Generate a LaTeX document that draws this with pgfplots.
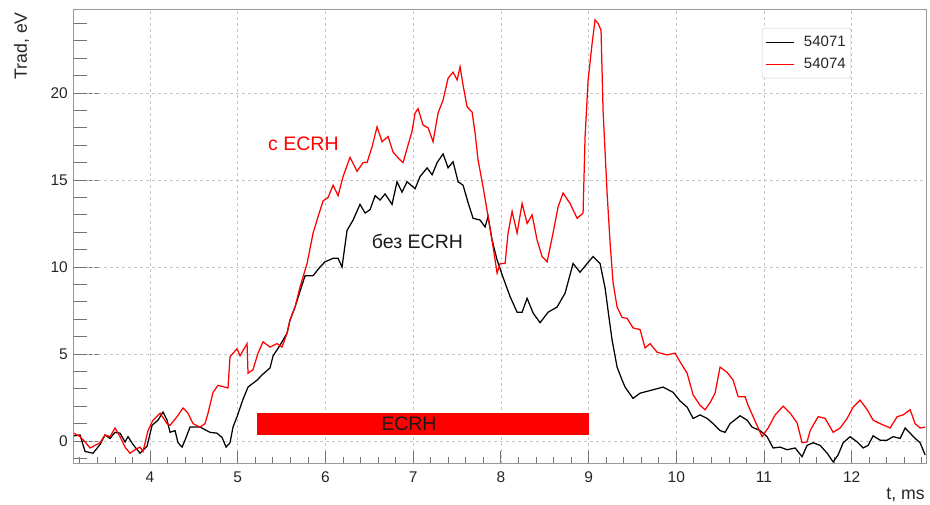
\documentclass[border=0pt]{standalone}
\usepackage{fontspec}
\setmainfont{Liberation Sans}
\usepackage{pgfplots}
\usepackage{pgfplotstable}
\pgfplotsset{compat=1.18}

\pgfplotstableread{
x y
3.133 0.3
3.202 0.35
3.259 -0.6
3.350 -0.7
3.430 -0.2
3.487 0.35
3.544 0.15
3.601 0.5
3.658 0.45
3.715 -0.05
3.749 0.25
3.806 -0.2
3.886 -0.7
3.966 -0.3
4.023 0.9
4.091 1.2
4.148 1.67
4.194 1.2
4.228 0.5
4.285 0.6
4.319 -0.1
4.365 -0.35
4.399 0.05
4.456 0.8
4.570 0.8
4.684 0.5
4.764 0.45
4.821 0.2
4.867 -0.35
4.912 -0.1
4.946 0.8
4.992 1.4
5.060 2.4
5.117 3.1
5.220 3.5
5.288 3.85
5.368 4.2
5.403 4.9
5.482 5.5
5.562 6.2
5.596 6.95
5.653 7.7
5.710 8.6
5.767 9.5
5.859 9.5
5.938 10.0
5.995 10.3
6.087 10.5
6.144 10.5
6.189 10.0
6.246 12.1
6.315 12.7
6.394 13.6
6.452 13.1
6.509 13.3
6.566 14.1
6.623 13.85
6.680 14.2
6.759 13.6
6.816 14.9
6.873 14.3
6.930 14.9
7.022 14.5
7.079 15.2
7.159 15.7
7.216 15.3
7.273 16.0
7.341 16.5
7.398 15.7
7.455 16.05
7.512 14.9
7.569 14.7
7.626 13.7
7.683 12.8
7.763 12.7
7.820 12.3
7.854 12.9
7.900 11.55
7.957 10.4
8.025 9.4
8.105 8.3
8.185 7.4
8.242 7.4
8.299 8.2
8.368 7.35
8.447 6.8
8.538 7.4
8.641 7.7
8.732 8.5
8.823 10.2
8.903 9.7
8.983 10.2
9.051 10.6
9.131 10.2
9.188 8.8
9.222 7.5
9.268 5.8
9.325 4.25
9.382 3.5
9.416 3.1
9.507 2.45
9.587 2.75
9.701 2.9
9.849 3.1
9.963 2.8
10.043 2.3
10.123 1.95
10.192 1.3
10.271 1.5
10.351 1.3
10.420 1.0
10.499 0.6
10.556 0.5
10.613 1.0
10.727 1.45
10.807 1.2
10.864 0.8
10.956 0.6
11.035 0.25
11.104 -0.4
11.184 -0.35
11.263 -0.5
11.355 -0.4
11.434 -0.9
11.491 -0.25
11.560 -0.1
11.640 -0.25
11.720 -0.7
11.788 -1.2
11.845 -0.8
11.902 -0.1
11.982 0.25
12.062 -0.05
12.130 -0.4
12.187 -0.25
12.244 0.3
12.324 0.05
12.404 0.05
12.472 0.25
12.552 0.15
12.609 0.75
12.666 0.45
12.723 0.15
12.780 -0.1
12.837 -0.8
}\blackdata

\pgfplotstableread{
x y
3.133 0.45
3.202 0.25
3.259 -0.05
3.316 -0.4
3.430 -0.1
3.487 0.35
3.544 0.25
3.601 0.75
3.658 0.25
3.715 -0.35
3.772 -0.7
3.829 -0.5
3.886 -0.35
3.920 -0.6
3.977 0.6
4.034 1.2
4.114 1.6
4.194 1.0
4.228 0.9
4.308 1.4
4.376 1.9
4.433 1.6
4.490 1.0
4.570 0.8
4.627 1.0
4.661 1.6
4.718 2.8
4.775 3.2
4.889 3.05
4.912 4.85
4.992 5.3
5.026 4.9
5.106 5.6
5.117 3.9
5.174 4.1
5.231 5.05
5.288 5.7
5.368 5.4
5.448 5.6
5.505 5.4
5.562 6.2
5.596 6.95
5.653 7.7
5.710 8.85
5.790 10.2
5.859 11.95
5.916 12.9
5.973 13.8
6.030 14.0
6.087 14.7
6.144 14.1
6.201 15.2
6.280 16.3
6.360 15.5
6.429 16.0
6.474 16.0
6.531 16.9
6.588 18.05
6.645 17.2
6.714 17.5
6.771 16.6
6.851 16.15
6.885 16.0
6.930 16.8
6.987 17.8
7.022 18.85
7.056 19.1
7.113 18.15
7.170 18.0
7.227 17.2
7.284 18.85
7.341 19.6
7.398 20.85
7.455 21.2
7.501 20.75
7.535 21.5
7.569 20.45
7.615 19.2
7.672 18.9
7.706 17.7
7.740 16.15
7.797 14.6
7.854 12.9
7.911 11.15
7.957 9.65
7.991 10.2
8.048 10.2
8.082 11.95
8.128 13.2
8.185 11.95
8.242 13.65
8.299 12.5
8.356 13.0
8.413 11.55
8.470 10.6
8.527 10.3
8.595 11.95
8.652 13.45
8.709 14.25
8.789 13.65
8.869 12.8
8.937 13.1
8.960 17.5
8.994 20.7
9.040 22.85
9.074 24.2
9.108 24.0
9.142 23.6
9.165 19.0
9.211 14.25
9.245 11.4
9.279 9.1
9.325 7.7
9.382 7.1
9.439 7.05
9.507 6.5
9.587 6.4
9.644 5.35
9.701 5.6
9.781 5.1
9.895 4.95
9.986 5.05
10.043 4.55
10.123 3.9
10.192 2.65
10.271 2.05
10.328 1.8
10.385 2.2
10.442 2.75
10.499 4.25
10.579 3.95
10.648 3.5
10.705 2.55
10.784 2.55
10.819 2.05
10.876 1.4
10.978 0.25
11.047 0.75
11.127 1.5
11.218 2.0
11.298 1.6
11.377 1.05
11.434 -0.1
11.491 -0.05
11.526 0.6
11.617 1.4
11.697 1.3
11.788 0.5
11.868 0.75
11.948 1.3
12.016 1.95
12.096 2.35
12.176 1.8
12.244 1.2
12.324 1.0
12.438 0.75
12.518 1.4
12.586 1.5
12.666 1.8
12.723 1.0
12.780 0.75
12.837 0.8
}\reddata

\pgfplotstableread{
x y
5.217 0.33
9.006 0.33
9.006 1.59
5.217 1.59
}\ecrhbar

\begin{document}
\begin{tikzpicture}
\useasboundingbox (-74pt,-41pt) rectangle (856pt,464pt);
% underlay axis carrying only the longer y-axis ticks
\begin{axis}[
  at={(0pt,0pt)}, anchor=south west,
  scale only axis, width=852pt, height=454pt,
  xmin=3.133, xmax=12.847, ymin=-1.32, ymax=24.77,
  xtick=\empty, ytick={0,5,10,15,20}, yticklabels={},
  minor ytick={-1,0,...,24},
  ytick pos=left, tick align=inside,
  major tick length=26pt, minor tick length=13pt,
  every tick/.append style={black!55, line width=0.8pt},
  axis line style={draw=none},
]
\end{axis}
\begin{axis}[
  at={(0pt,0pt)}, anchor=south west,
  scale only axis, width=852pt, height=454pt,
  xmin=3.133, xmax=12.847, ymin=-1.32, ymax=24.77,
  xtick={4,5,...,12}, ytick={0,5,10,15,20},
  minor xtick={3.2,3.4,...,12.8},
  minor ytick={-1,0,...,24},
  tick pos=left, tick align=inside,
  major tick length=13pt, minor tick length=6.5pt,
  every tick/.append style={black!55, line width=0.8pt},
  axis line style={black!40, line width=1pt},
  grid=major,
  major grid style={gray!45, line width=0.6pt, dash pattern=on 3pt off 3pt},
  /pgf/number format/assume math mode=true,
  ticklabel style={font=\fontsize{15.5}{18}\selectfont, text=black!85},
  xticklabel style={anchor=base, inner sep=0pt, yshift=-19pt},
  yticklabel style={anchor=east, inner sep=0pt, xshift=-6pt},
  xlabel={t, ms},
  ylabel={Trad, eV},
  label style={font=\fontsize{17.7}{20}\selectfont, text=black!85},
  xlabel style={at={(axis description cs:0.9988,-0.0793)}, anchor=base east, inner sep=0pt},
  ylabel style={at={(axis description cs:-0.0552,0.9956)}, anchor=base east, inner sep=0pt},
  legend style={at={(axis description cs:0.8075,0.9604)}, anchor=north west,
    draw=black!20, rounded corners=2pt, fill=white,
    font=\fontsize{15}{18}\selectfont, inner xsep=3pt, inner ysep=6pt,
    row sep=6pt, column sep=8pt, nodes={inner sep=2pt, text=black!85}},
  legend cell align=left,
  legend image code/.code={\draw[#1, line width=0.8pt] (0pt,0pt) -- (28pt,0pt);},
]
\addplot[black, line width=1.25pt] table[x=x,y=y] {\blackdata};
\addlegendentry{54071}
\addplot[red, line width=1.25pt] table[x=x,y=y] {\reddata};
\addlegendentry{54074}
\addplot[fill=red, draw=none, forget plot] table[x=x,y=y] {\ecrhbar} -- cycle;
\node[anchor=base west, red, font=\fontsize{19.5}{22}\selectfont, inner sep=0pt] at (axis cs:5.345,16.72) {с ECRH};
\node[anchor=base west, text=black!90, font=\fontsize{19.5}{22}\selectfont, inner sep=0pt] at (axis cs:6.528,11.07) {без ECRH};
\node[anchor=base west, text=black!90, font=\fontsize{19.5}{22}\selectfont, inner sep=0pt] at (axis cs:6.634,0.59) {ECRH};
\end{axis}
\end{tikzpicture}
\end{document}
